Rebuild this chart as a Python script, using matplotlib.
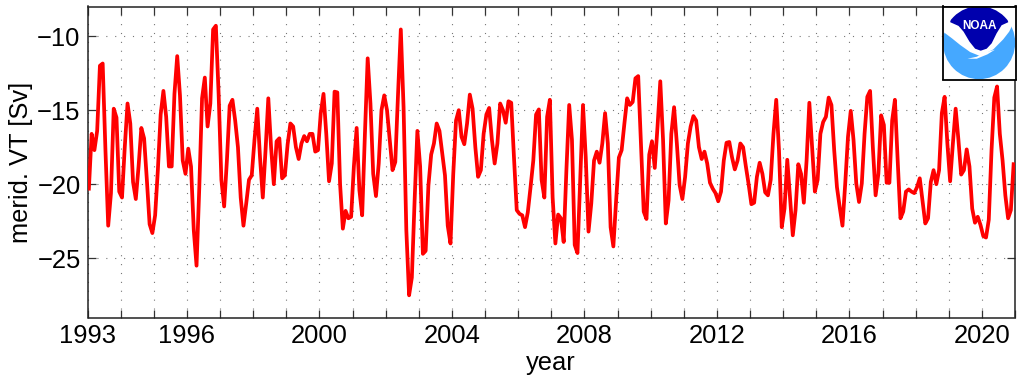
import matplotlib
matplotlib.use("Agg")
import matplotlib.pyplot as plt
import numpy as np
from matplotlib.patches import Circle, Polygon

plt.rcParams["font.family"] = ["Liberation Sans", "DejaVu Sans"]

W, H = 1036, 380

# monthly values, first value is Jan 1993
vt_1993_2002 = [
    -20.3, -16.6, -17.7, -16.4, -12.0, -11.85, -17.7, -22.8, -20.6, -14.9, -15.5, -20.5,
    -20.9, -17.5, -14.55, -15.9, -19.85, -21.0, -18.8, -16.2, -16.9, -19.7, -22.7, -23.3,
    -22.1, -19.0, -15.3, -13.7, -15.45, -18.8, -18.8, -13.9, -11.35, -14.0, -18.4, -19.3,
    -17.6, -18.8, -23.1, -25.5, -20.2, -14.2, -12.8, -16.1, -14.55, -9.55, -9.3, -13.9,
    -19.7, -21.5, -18.4, -14.7, -14.3, -15.7, -17.5, -20.9, -22.8, -21.3, -19.7, -19.4,
    -17.0, -14.9, -18.2, -20.9, -17.7, -14.2, -17.5, -20.0, -17.1, -16.9, -19.6, -19.4,
    -17.3, -15.9, -16.1, -17.5, -18.3, -17.25, -16.75, -17.1, -16.6, -16.6, -17.8, -17.7,
    -15.2, -13.9, -16.6, -19.8, -18.6, -13.75, -13.8, -20.0, -23.0, -21.8, -22.3, -22.2,
    -18.8, -16.2, -20.4, -22.1, -16.6, -11.5, -14.55, -19.3, -20.8, -18.6, -15.0, -14.0,
    -15.0, -17.0, -19.05, -18.5, -13.9, -9.55,
]
vt_2002_2012 = [
    -14.8, -23.1, -27.5, -26.3, -21.1, -16.4, -18.8, -24.7, -24.5, -20.1, -18.0, -17.25,
    -15.9, -16.4, -17.9, -19.4, -22.8, -24.0, -19.3, -15.7, -15.0, -16.8, -17.3, -15.9,
    -13.95, -14.9, -17.5, -19.5, -19.05, -16.6, -15.3, -14.85, -17.0, -18.6, -17.25, -14.55,
    -15.0, -15.85, -14.4, -14.5, -18.2, -21.75, -22.0, -22.1, -22.9, -21.9, -20.2, -18.4,
    -15.3, -14.95, -19.7, -20.9, -15.45, -14.3, -20.9, -24.0, -22.05, -22.3, -23.9, -19.0,
    -14.65, -17.0, -24.1, -24.65, -19.7, -14.65, -18.2, -23.2, -21.3, -18.4, -17.8, -18.55,
    -17.25, -15.2, -17.25, -22.9, -24.2, -21.1, -18.2, -17.7, -15.9, -14.2, -14.65, -14.45,
    -12.85, -12.7, -17.25, -21.85, -22.35, -18.0, -17.1, -18.9, -16.1, -13.05, -17.0, -22.65,
    -21.1, -16.6, -14.8, -17.25, -20.05, -21.0, -19.5, -17.25, -16.1, -15.4, -15.7, -17.5,
]
vt_2012_2021 = [
    -18.3, -17.8, -18.6, -19.9, -20.3, -20.6, -21.15, -20.5, -18.4, -17.2, -17.15, -18.2,
    -19.0, -18.4, -17.25, -17.5, -18.8, -20.0, -21.35, -21.25, -19.5, -18.55, -19.3, -20.55,
    -20.75, -19.7, -16.6, -14.3, -17.7, -22.9, -21.65, -18.35, -20.85, -23.45, -21.75, -18.65,
    -19.3, -21.25, -18.4, -14.5, -17.5, -20.5, -19.7, -16.6, -15.8, -15.45, -14.15, -14.65,
    -17.7, -20.2, -21.55, -22.8, -19.95, -16.8, -15.05, -17.0, -19.95, -21.2, -19.95, -16.6,
    -14.1, -13.7, -17.5, -20.75, -19.3, -15.35, -16.0, -19.9, -19.9, -15.7, -14.3, -18.4,
    -22.3, -21.85, -20.5, -20.35, -20.5, -20.6, -20.2, -19.6, -21.1, -22.65, -22.3, -19.85,
    -19.05, -20.0, -19.05, -15.2, -14.1, -17.25, -19.8, -17.25, -14.9, -17.0, -19.35, -19.05,
    -17.65, -18.8, -21.65, -22.6, -22.2, -22.75, -23.5, -23.6, -22.4, -17.7, -14.15, -13.4,
    -16.6, -18.4, -20.75, -22.3, -21.75, -18.65,
]
vt = np.array(vt_1993_2002 + vt_2002_2012 + vt_2012_2021)
years = 1993 + (np.arange(len(vt)) + 0.5) / 12

year_ticks = np.arange(1993, 2022)
year_labels = [1993, 1996, 2000, 2004, 2008, 2012, 2016, 2020]
vt_ticks = [-25, -20, -15, -10]


def draw_logo(fig):
    """NOAA logo in the upper right corner, drawn in crop pixel coordinates."""
    ax = fig.add_axes([943 / W, 1 - 79.5 / H, 72.5 / W, 73 / H], zorder=5)
    ax.set_xlim(38, 257)
    ax.set_ylim(238, 20)
    ax.set_xticks([])
    ax.set_yticks([])
    for s in ax.spines.values():
        s.set_linewidth(1.3)

    ax.add_patch(Circle((147, 128), 109, color="#45a8ff", lw=0))
    upper = [(30, 92), (42, 98), (65, 115), (90, 135), (120, 156), (150, 168), (190, 148),
             (220, 118), (238, 95), (248, 75), (262, 55), (262, 10), (30, 10)]
    ax.add_patch(Polygon(upper, color="white", lw=0))
    dark = [(60, 67), (60, 10), (235, 10), (235, 67), (215, 76), (200, 100), (185, 130),
            (170, 146), (152, 152), (135, 146), (118, 125), (100, 95), (85, 78)]
    blue = Polygon(dark, color="#0000ad", lw=0)
    ax.add_patch(blue)
    blue.set_clip_path(Circle((147, 128), 109, transform=ax.transData))
    swoosh = [(112, 176), (140, 170), (165, 157), (195, 149), (172, 163), (140, 176)]
    ax.add_patch(Polygon(swoosh, color="white", lw=0))
    ax.text(147, 78, "NOAA", color="white", fontsize=8.5, fontweight="bold",
            ha="center", va="center", family=["Liberation Sans"])


def main():
    fig = plt.figure(figsize=(W / 100, H / 100), dpi=100)
    ax = fig.add_axes([87.5 / W, 1 - 317.5 / H, 927.5 / W, 311 / H])

    ax.plot(years, vt, color="#ff0000", linewidth=2.7, solid_joinstyle="round", zorder=3)

    ax.set_xlim(1993, 2021)
    ax.set_ylim(-29, -8)
    ax.set_xticks(year_ticks)
    ax.set_xticklabels([str(y) if y in year_labels else "" for y in year_ticks])
    ax.set_yticks(vt_ticks)
    ax.set_yticklabels(["\u221225", "\u221220", "\u221215", "\u221210"])
    ax.tick_params(direction="in", length=5.5, width=0.9, color="#333333",
                   top=True, right=True, labelsize=18.4, pad=5)
    ax.grid(True, color="#777777", linewidth=0.8, linestyle=(0, (1, 7)))
    ax.set_axisbelow(True)
    for s in ax.spines.values():
        s.set_linewidth(1.1)
        s.set_color("#222222")

    ax.set_xlabel("year", fontsize=18.4, labelpad=1.5)
    ax.set_ylabel("merid. VT [Sv]", fontsize=18.4, labelpad=3)

    draw_logo(fig)
    fig.savefig("out.png", dpi=100)


if __name__ == "__main__":
    main()
